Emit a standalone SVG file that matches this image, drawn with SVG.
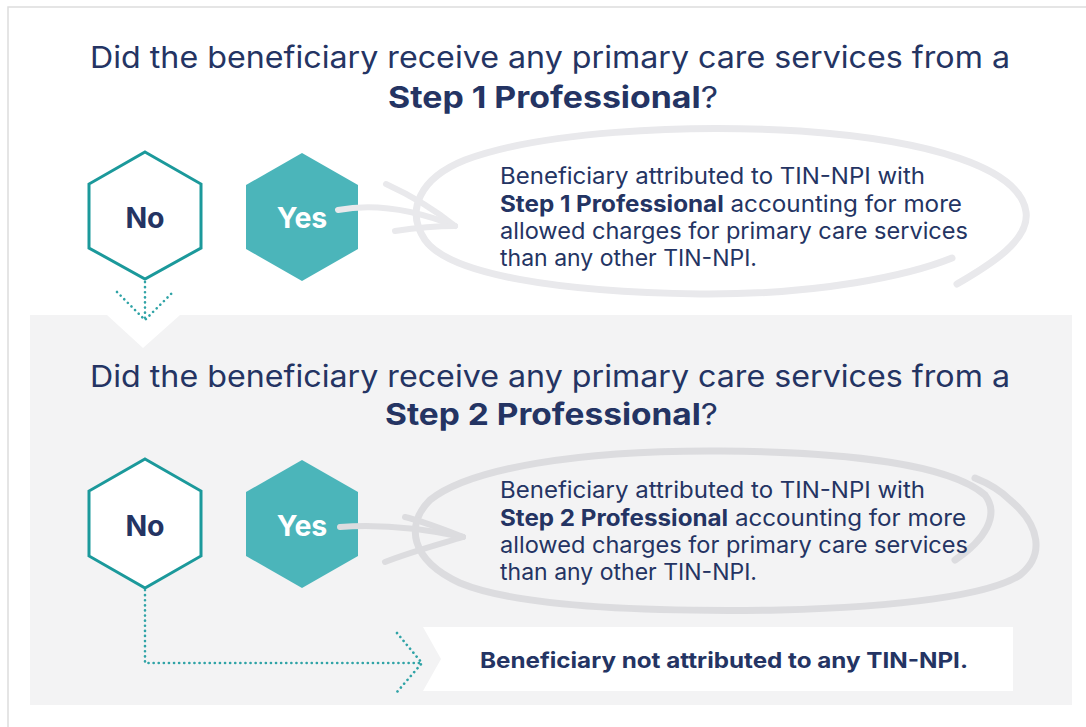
<svg xmlns="http://www.w3.org/2000/svg" width="1086" height="727" viewBox="0 0 1086 727">
<style>
.t{font-family:Inter,"Open Sans","Liberation Sans",sans-serif;fill:#243463}
.q{font-size:30px}
.b{font-weight:700}
.body{font-size:22.5px}
.hexno{fill:#ffffff;stroke:#1b999b;stroke-width:3}
.hexyes{fill:#4bb5ba}
.lbl{font-family:Inter,"Open Sans","Liberation Sans",sans-serif;font-size:28.5px;font-weight:700;text-anchor:middle}
.dot{fill:none;stroke:#2fa3a6;stroke-width:2.6;stroke-linecap:round;stroke-dasharray:0.1 5}
.sw1{fill:none;stroke:#e9e9ec;stroke-linecap:round}
.sw2{fill:none;stroke:#dcdcdf;stroke-linecap:round}
</style>
<rect x="0" y="0" width="1086" height="727" fill="#ffffff"/>
<path d="M8 727 V7 H1086" fill="none" stroke="#dddddd" stroke-width="1.5"/>
<g id="panel2">
<path d="M30 315 H107 L143 348 L180 315 H1072 V705 H30 Z" fill="#f3f3f4"/>
</g>
<g id="question1">
<text class="t q" x="90" y="68" textLength="920" lengthAdjust="spacingAndGlyphs">Did the beneficiary receive any primary care services from a</text>
<text class="t q" x="388" y="108" textLength="330" lengthAdjust="spacingAndGlyphs"><tspan class="b">Step 1 Professional</tspan>?</text>
</g>
<g id="outcome1">
<path class="sw1" stroke-width="7" d="M957 284 C990 265 1030 240 1026 212 C1020 168 930 140 800 131 C680 124 540 132 465 160 C420 178 405 210 425 240 C450 275 560 292 700 294 C820 295 910 275 952 258"/>
<text class="t body" x="500" y="184" textLength="425" lengthAdjust="spacingAndGlyphs">Beneficiary attributed to TIN-NPI with</text>
<text class="t body" x="500" y="212" textLength="462" lengthAdjust="spacingAndGlyphs"><tspan class="b">Step 1 Professional</tspan> accounting for more</text>
<text class="t body" x="500" y="239" textLength="468" lengthAdjust="spacingAndGlyphs">allowed charges for primary care services</text>
<text class="t body" x="500" y="266" textLength="257" lengthAdjust="spacingAndGlyphs">than any other TIN-NPI.</text>
</g>
<g id="no1">
<polygon class="hexno" points="145,152 201,184 201,248 145,279 89,248 89,184"/>
<text class="lbl" x="145" y="228" fill="#243463">No</text>
</g>
<g id="yes1">
<polygon class="hexyes" points="302,153 358,185 358,249 302,281 246,249 246,185"/>
<text class="lbl" x="302" y="228" fill="#ffffff">Yes</text>
</g>
<g id="question2">
<text class="t q" x="90" y="387" textLength="920" lengthAdjust="spacingAndGlyphs">Did the beneficiary receive any primary care services from a</text>
<text class="t q" x="385" y="425" textLength="333" lengthAdjust="spacingAndGlyphs"><tspan class="b">Step 2 Professional</tspan>?</text>
</g>
<g id="outcome2">
<path class="sw2" stroke-width="7" d="M955 560 C985 540 1000 515 985 495 C950 465 850 452 720 451 C580 450 470 468 430 500 C405 525 410 560 460 583 C520 608 650 612 780 610 C900 607 990 595 1020 575 C1045 555 1040 525 1010 500 C1000 490 985 482 975 478"/>
<text class="t body" x="500" y="498" textLength="425" lengthAdjust="spacingAndGlyphs">Beneficiary attributed to TIN-NPI with</text>
<text class="t body" x="500" y="526" textLength="466" lengthAdjust="spacingAndGlyphs"><tspan class="b">Step 2 Professional</tspan> accounting for more</text>
<text class="t body" x="500" y="553" textLength="468" lengthAdjust="spacingAndGlyphs">allowed charges for primary care services</text>
<text class="t body" x="500" y="580" textLength="257" lengthAdjust="spacingAndGlyphs">than any other TIN-NPI.</text>
</g>
<g id="no2">
<polygon class="hexno" points="145,459 201,491 201,556 145,588 89,556 89,491"/>
<text class="lbl" x="145" y="536" fill="#243463">No</text>
</g>
<g id="yes2">
<polygon class="hexyes" points="302,460 358,492 358,556 302,588 246,556 246,492"/>
<text class="lbl" x="302" y="536" fill="#ffffff">Yes</text>
</g>
<g id="outcome3">
<path d="M423 627 H1013 V691 H423 L441 659 Z" fill="#ffffff"/>
<text class="t b" x="480" y="668" font-size="21.5" textLength="488" lengthAdjust="spacingAndGlyphs">Beneficiary not attributed to any TIN-NPI.</text>
</g>
<g id="connectors">
<path class="sw1" stroke-width="6" d="M338 210 C370 204 410 208 455 226"/>
<path class="sw1" stroke-width="6" d="M386 184 C410 195 435 210 455 226"/>
<path class="sw1" stroke-width="6" d="M395 231 C415 228 435 226 455 226"/>
<path class="sw2" stroke-width="6" d="M340 527 C380 524 420 528 463 537"/>
<path class="sw2" stroke-width="6" d="M405 517 C425 522 445 530 463 537"/>
<path class="sw2" stroke-width="6" d="M385 562 C410 552 440 544 463 537"/>
<path class="dot" d="M145 282 V320 M117 292 L145 320 L173 292"/>
<path class="dot" d="M145 590 V663 H421 M397 633 L422 663 L397 692"/>
</g>
</svg>
